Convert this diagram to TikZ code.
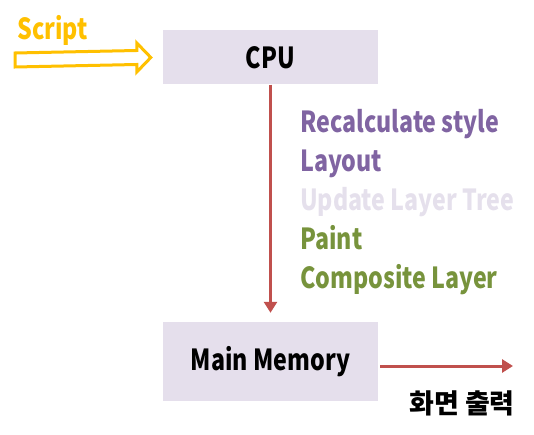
\documentclass[tikz,border=0pt]{standalone}
\usepackage{fontspec}
\setmainfont[FakeStretch=0.8]{Noto Sans CJK KR}
\newfontfamily\hangul{Noto Sans CJK KR}
\usetikzlibrary{arrows.meta,positioning,calc}
\definecolor{boxfill}{HTML}{E5DFEC}
\definecolor{scriptyellow}{HTML}{FFC000}
\definecolor{arrowred}{HTML}{C0504D}
\definecolor{stylepurple}{HTML}{8064A2}
\definecolor{treegray}{HTML}{E5E0EC}
\definecolor{paintgreen}{HTML}{77933C}
\tikzset{
  unitbox/.style={fill=boxfill,minimum width=215,minimum height=54,inner sep=0pt,
    font=\bfseries\fontsize{29}{29}\selectfont},
  phase/.style={anchor=base west,inner sep=0pt,font=\bfseries\fontsize{29}{29}\selectfont},
  redarrow/.style={draw=arrowred,line width=3,-{Triangle[length=11,width=13]}},
  hollowarrow/.style={draw=scriptyellow,line width=3,line join=miter}
}

\begin{document}
\begin{tikzpicture}[x=1pt,y=-1pt]
    \useasboundingbox (0,0) rectangle (534,435);
    \node[unitbox] (CPU) at (270.5,57.5) {CPU};
    \node[unitbox,minimum height=79] (MEM) at (270.5,361.5) {Main Memory};
    \node[phase,text=scriptyellow] (script) at (17,40) {Script};
    \node[phase,text=stylepurple] (recalc) at (300,133) {Recalculate style};
    \node[phase,text=stylepurple] (layout) at (300,172) {Layout};
    \node[phase,text=treegray] (tree) at (300,211) {Update Layer Tree};
    \node[phase,text=paintgreen] (paint) at (300,249) {Paint};
    \node[phase,text=paintgreen] (composite) at (300,288) {Composite Layer};
    \coordinate (scriptin) at (15,60);
    \coordinate (scriptend) at ([xshift=-12]CPU.west);
    \draw[hollowarrow] ($(scriptin)+(0,-7)$) -- ($(scriptend)+(-14,-7)$)
      -- ($(scriptend)+(-14,-14.5)$) -- (scriptend) -- ($(scriptend)+(-14,14.5)$)
      -- ($(scriptend)+(-14,7)$) -- ($(scriptin)+(0,7)$) -- cycle;
    \draw[redarrow,shorten >=9] (CPU) -- (MEM);
    \coordinate (screen) at (513,366);
    \draw[redarrow,shorten <=2] (MEM.east |- screen) -- (screen);
    \node[font=\hangul\bfseries\fontsize{27}{27}\selectfont] (output) at (462,403) {화면 출력};
\end{tikzpicture}
\end{document}
